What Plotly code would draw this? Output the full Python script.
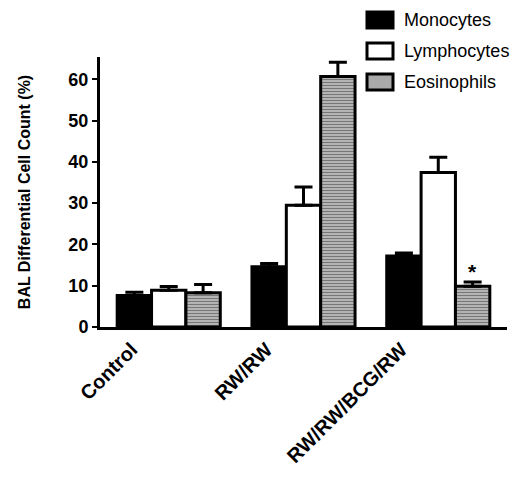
import plotly.graph_objects as go

categories = ["Control", "RW/RW", "RW/RW/BCG/RW"]
monocytes = [7.6, 14.6, 17.2]
monocytes_err = [0.8, 0.8, 0.7]
lymphocytes = [8.9, 29.5, 37.4]
lymphocytes_err = [0.9, 4.4, 3.7]
eosinophils = [8.3, 60.7, 9.9]
eosinophils_err = [2.0, 3.4, 1.0]
y_ticks = [0, 10, 20, 30, 40, 50, 60]
series_names = ["Monocytes", "Lymphocytes", "Eosinophils"]
series_fills = ["black", "white", "#a9a9a9"]

FONT = "Liberation Sans, Arial, sans-serif"
bargap = 0.235

# figure geometry (page body adds an 8px offset)
W, H = 513, 469
ML, MR, MT, MB = 92, 14, 49, 150
PW, PH = W - ML - MR, H - MT - MB

def px_x(fx):
    return (fx - ML) / PW

def px_y(fy):
    return (H - MB - fy) / PH

def err(vals):
    return dict(type="data", array=vals, arrayminus=[0] * len(vals), symmetric=False,
                color="black", thickness=3, width=9, visible=True)

fig = go.Figure()
fig.add_trace(go.Bar(name="Monocytes", x=categories, y=monocytes,
                     error_y=err(monocytes_err),
                     marker=dict(color="black", line=dict(color="black", width=3))))
fig.add_trace(go.Bar(name="Lymphocytes", x=categories, y=lymphocytes,
                     error_y=err(lymphocytes_err),
                     marker=dict(color="white", line=dict(color="black", width=3))))
fig.add_trace(go.Bar(name="Eosinophils", x=categories, y=eosinophils,
                     error_y=err(eosinophils_err),
                     marker=dict(color="#a0a0a0", line=dict(color="black", width=3),
                                 pattern=dict(shape="-", fgcolor="#3a3a3a", bgcolor="#b4b4b4",
                                              size=3, solidity=0.35))))

bar_w = (1 - bargap) / 3
fig.add_annotation(x=2 + bar_w, y=eosinophils[2] + eosinophils_err[2], xref="x", yref="y",
                   text="<b>*</b>", showarrow=False, yshift=11,
                   font=dict(family=FONT, size=21, color="black"))

# custom legend (large swatches like the original)
for i, (name, fill) in enumerate(zip(series_names, series_fills)):
    cy = 12 + 31 * i
    fig.add_shape(type="rect", xref="paper", yref="paper",
                  x0=px_x(359), x1=px_x(385), y0=px_y(cy - 8), y1=px_y(cy + 8),
                  fillcolor=fill, line=dict(color="black", width=3))
    fig.add_annotation(xref="paper", yref="paper", x=px_x(395), y=px_y(cy),
                       xanchor="left", yanchor="middle", text=name, showarrow=False,
                       borderpad=0, font=dict(family=FONT, size=18, color="black"))

fig.update_layout(
    width=W, height=H,
    margin=dict(l=ML, r=MR, t=MT, b=MB),
    paper_bgcolor="white", plot_bgcolor="white",
    barmode="group", bargap=bargap, bargroupgap=0,
    font=dict(family=FONT, color="black"),
    showlegend=False,
    xaxis=dict(range=[-0.51, 2.51], showline=True, linecolor="black", linewidth=3,
               ticks="", automargin=False, ticklabelshift=-37,
               tickangle=-45, tickfont=dict(family=FONT, size=20, color="black", weight="bold"),
               showgrid=False, zeroline=False),
    yaxis=dict(range=[0, 65.4], tickvals=y_ticks, showline=True, linecolor="black", linewidth=3,
               ticks="outside", ticklen=5, tickwidth=2, tickcolor="black", automargin=False,
               tickfont=dict(family=FONT, size=18, color="black", weight="bold"),
               showgrid=False, zeroline=False,
               title=dict(text="BAL Differential Cell Count (%)",
                          font=dict(family=FONT, size=16, color="black", weight="bold"),
                          standoff=34)),
)

fig.write_html("out.html")
